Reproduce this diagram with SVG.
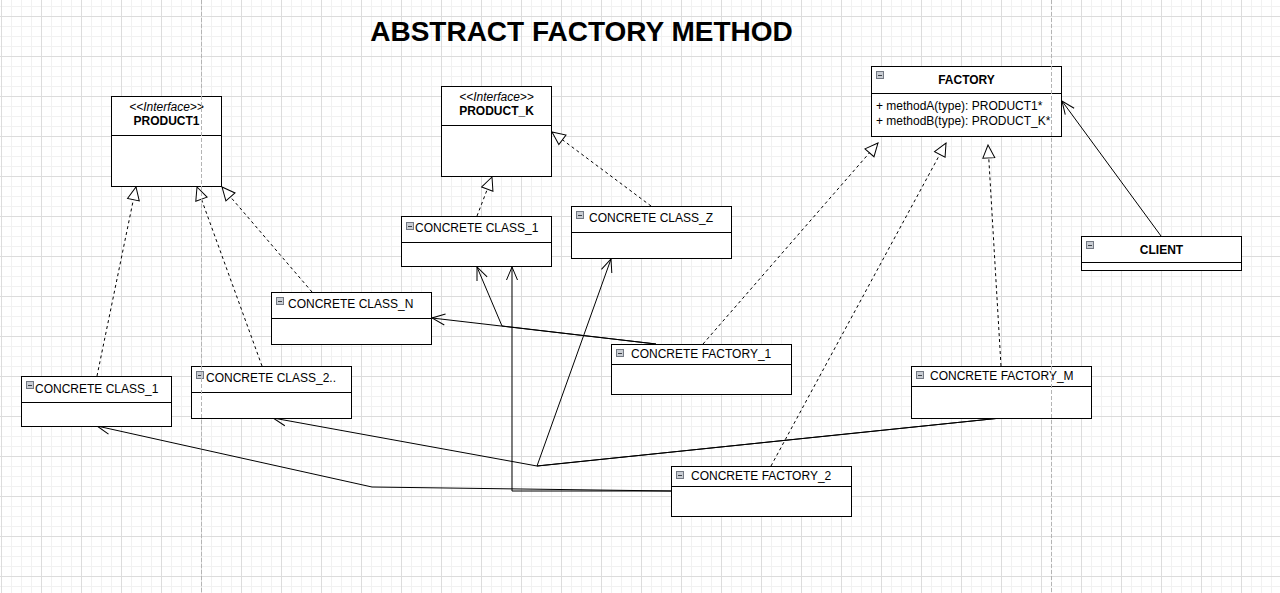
<svg xmlns="http://www.w3.org/2000/svg" width="1280" height="593" viewBox="0 0 1280 593">
<style>
.box{fill:#ffffff;stroke:#000000;stroke-width:1}
.div{stroke:#000000;stroke-width:1}
.t{font-family:"Liberation Sans",Arial,sans-serif;font-size:12px;fill:#000000}
.b{font-weight:bold}
.i{font-style:italic}
.title{font-family:"Liberation Sans",Arial,sans-serif;font-size:28px;font-weight:bold;fill:#000000}
.ic{fill:#c9cdd3;stroke:#737983;stroke-width:1}
.icm{stroke:#3c3f44;stroke-width:1}
.dash{fill:none;stroke:#000000;stroke-width:1;stroke-dasharray:3 3}
.sol{fill:none;stroke:#000000;stroke-width:1}
.pb{stroke:#b4b4b4;stroke-width:1;stroke-dasharray:4 2}
</style>
<defs>
<pattern id="grid" x="1" y="6" width="40" height="40" patternUnits="userSpaceOnUse">
<rect width="40" height="40" fill="#ffffff"/>
<rect x="0" y="0" width="40" height="1" fill="#f1f1f1"/>
<rect x="0" y="20" width="40" height="1" fill="#f1f1f1"/>
<rect x="0" y="30" width="40" height="1" fill="#f1f1f1"/>
<rect x="10" y="0" width="1" height="40" fill="#f1f1f1"/>
<rect x="20" y="0" width="1" height="40" fill="#f1f1f1"/>
<rect x="30" y="0" width="1" height="40" fill="#f1f1f1"/>
<rect x="0" y="10" width="40" height="1" fill="#dcdcdc"/>
<rect x="0" y="0" width="1" height="40" fill="#dcdcdc"/>
</pattern>
<marker id="tri" viewBox="-14 -7 15 14" refX="0" refY="0" markerWidth="15" markerHeight="14" markerUnits="userSpaceOnUse" orient="auto">
<path d="M-13,-6 L0,0 L-13,6 Z" fill="#ffffff" stroke="#000000" stroke-width="1"/>
</marker>
<marker id="open" viewBox="-14 -7 15 14" refX="0" refY="0" markerWidth="15" markerHeight="14" markerUnits="userSpaceOnUse" orient="auto">
<path d="M-13,-5.5 L0,0 L-13,5.5" fill="none" stroke="#000000" stroke-width="1"/>
</marker>
<g id="icon"><rect class="ic" x="0.5" y="0.5" width="7" height="7"/><line class="icm" x1="2" y1="4.5" x2="6" y2="4.5"/></g>
</defs>
<rect x="0" y="0" width="1280" height="593" fill="url(#grid)"/>

<text class="title" x="581.5" y="41" text-anchor="middle">ABSTRACT FACTORY METHOD</text>

<g id="connectors">
<path class="dash" d="M97,376 L136,187" marker-end="url(#tri)"/>
<path class="dash" d="M262,366 L197,187" marker-end="url(#tri)"/>
<path class="dash" d="M312,292 L222,187" marker-end="url(#tri)"/>
<path class="dash" d="M477,216 L492,177" marker-end="url(#tri)"/>
<path class="dash" d="M651,206 L552,132" marker-end="url(#tri)"/>
<path class="dash" d="M703,344 L878,143" marker-end="url(#tri)"/>
<path class="dash" d="M771,466 L946,143" marker-end="url(#tri)"/>
<path class="dash" d="M1001,366 L988,145" marker-end="url(#tri)"/>
<path class="sol" d="M1161,236 L1062,101" marker-end="url(#open)"/>
<path class="sol" d="M656,344 L432,318" marker-end="url(#open)"/>
<path class="sol" d="M656,344 L502,326 L477,267" marker-end="url(#open)"/>
<path class="sol" d="M671,491 L512,491 L512,267" marker-end="url(#open)"/>
<path class="sol" d="M671,491 L372,487 L97,426" marker-end="url(#open)"/>
<path class="sol" d="M1001,418 L537,466 L273,418" marker-end="url(#open)"/>
<path class="sol" d="M1001,418 L537,466 L611,259" marker-end="url(#open)"/>
</g>

<g id="product1">
<rect class="box" x="111.5" y="96.5" width="110" height="90"/>
<line class="div" x1="111.5" y1="135.5" x2="221.5" y2="135.5"/>
<text class="t i" x="166.5" y="111" text-anchor="middle">&lt;&lt;Interface&gt;&gt;</text>
<text class="t b" x="166.5" y="125" text-anchor="middle">PRODUCT1</text>
</g>

<g id="product_k">
<rect class="box" x="441.5" y="86.5" width="110" height="90"/>
<line class="div" x1="441.5" y1="125.5" x2="551.5" y2="125.5"/>
<text class="t i" x="496.5" y="101" text-anchor="middle">&lt;&lt;Interface&gt;&gt;</text>
<text class="t b" x="496.5" y="115" text-anchor="middle">PRODUCT_K</text>
</g>

<g id="factory">
<rect class="box" x="871.5" y="66.5" width="190" height="70"/>
<line class="div" x1="871.5" y1="93.5" x2="1061.5" y2="93.5"/>
<use href="#icon" x="876" y="71"/>
<text class="t b" x="966.5" y="84" text-anchor="middle">FACTORY</text>
<text class="t" x="876" y="110">+ methodA(type): PRODUCT1*</text>
<text class="t" x="876" y="125">+ methodB(type): PRODUCT_K*</text>
</g>

<g id="client">
<rect class="box" x="1081.5" y="236.5" width="160" height="34"/>
<line class="div" x1="1081.5" y1="262.5" x2="1241.5" y2="262.5"/>
<use href="#icon" x="1086" y="241"/>
<text class="t b" x="1161.5" y="254" text-anchor="middle">CLIENT</text>
</g>

<g id="concrete_class_1_left">
<rect class="box" x="21.5" y="376.5" width="150" height="50"/>
<line class="div" x1="21.5" y1="402.5" x2="171.5" y2="402.5"/>
<use href="#icon" x="26" y="381"/>
<text class="t" x="35" y="393">CONCRETE CLASS_1</text>
</g>

<g id="concrete_class_2">
<rect class="box" x="191.5" y="366.5" width="160" height="52"/>
<line class="div" x1="191.5" y1="392.5" x2="351.5" y2="392.5"/>
<use href="#icon" x="196" y="371"/>
<text class="t" x="206" y="382">CONCRETE CLASS_2..</text>
</g>

<g id="concrete_class_n">
<rect class="box" x="271.5" y="292.5" width="160" height="52"/>
<line class="div" x1="271.5" y1="318.5" x2="431.5" y2="318.5"/>
<use href="#icon" x="276" y="297"/>
<text class="t" x="288" y="308">CONCRETE CLASS_N</text>
</g>

<g id="concrete_class_1_mid">
<rect class="box" x="401.5" y="216.5" width="150" height="50"/>
<line class="div" x1="401.5" y1="242.5" x2="551.5" y2="242.5"/>
<use href="#icon" x="406" y="222"/>
<text class="t" x="415" y="232">CONCRETE CLASS_1</text>
</g>

<g id="concrete_class_z">
<rect class="box" x="571.5" y="206.5" width="160" height="52"/>
<line class="div" x1="571.5" y1="232.5" x2="731.5" y2="232.5"/>
<use href="#icon" x="576" y="211"/>
<text class="t" x="589" y="222">CONCRETE CLASS_Z</text>
</g>

<g id="concrete_factory_1">
<rect class="box" x="611.5" y="344.5" width="180" height="50"/>
<line class="div" x1="611.5" y1="364.5" x2="791.5" y2="364.5"/>
<use href="#icon" x="616" y="349"/>
<text class="t" x="631" y="358">CONCRETE FACTORY_1</text>
</g>

<g id="concrete_factory_m">
<rect class="box" x="911.5" y="366.5" width="180" height="52"/>
<line class="div" x1="911.5" y1="386.5" x2="1091.5" y2="386.5"/>
<use href="#icon" x="916" y="371"/>
<text class="t" x="930" y="380">CONCRETE FACTORY_M</text>
</g>

<g id="concrete_factory_2">
<rect class="box" x="671.5" y="466.5" width="180" height="50"/>
<line class="div" x1="671.5" y1="486.5" x2="851.5" y2="486.5"/>
<use href="#icon" x="676" y="471"/>
<text class="t" x="691" y="480">CONCRETE FACTORY_2</text>
</g>

<line class="pb" x1="201.5" y1="0" x2="201.5" y2="593"/>
<line class="pb" x1="1051.5" y1="0" x2="1051.5" y2="593"/>
</svg>
